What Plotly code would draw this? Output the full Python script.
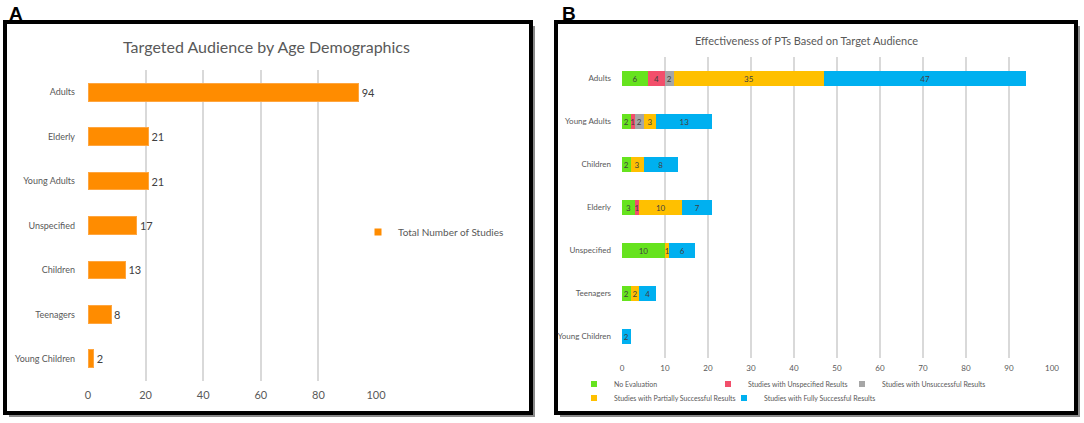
import plotly.graph_objects as go

# Panel A data
ages_a = ["Adults", "Elderly", "Young Adults", "Unspecified", "Children", "Teenagers", "Young Children"]
total_studies = [94, 21, 21, 17, 13, 8, 2]

# Panel B data
ages_b = ["Adults", "Young Adults", "Children", "Elderly", "Unspecified", "Teenagers", "Young Children"]
no_eval = [6, 2, 2, 3, 10, 2, 0]
unspecified_res = [4, 1, 0, 1, 0, 0, 0]
unsuccessful = [2, 2, 0, 0, 0, 0, 0]
partial = [35, 3, 3, 10, 1, 2, 0]
full = [47, 13, 8, 7, 6, 4, 2]

series_b = [
    ("No Evaluation", no_eval, "#66E31E"),
    ("Studies with Unspecified Results", unspecified_res, "#F24F6B"),
    ("Studies with Unsuccessful Results", unsuccessful, "#A6A6A6"),
    ("Studies with Partially Successful Results", partial, "#FFC000"),
    ("Studies with Fully Successful Results", full, "#00B0F0"),
]

W, H = 1084, 423
FONT = "Lato, Open Sans, sans-serif"
GREY = "#595959"


def px(x):
    return x / W


def py(y):
    return 1 - y / H


fig = go.Figure()

# panel A
fig.add_trace(go.Bar(
    x=total_studies, y=ages_a, orientation="h", showlegend=False,
    marker=dict(color="#FF8C00", line=dict(color="#FFA640", width=1)),
    width=0.4, text=total_studies, textposition="outside",
    textfont=dict(size=11, color="#404040", family=FONT), cliponaxis=False,
    xaxis="x", yaxis="y",
))
fig.add_trace(go.Scatter(
    x=[None], y=[None], mode="markers", name="Total Number of Studies",
    marker=dict(symbol="square", size=7, color="#FF8C00"),
    xaxis="x", yaxis="y", legend="legend",
))

# panel B, legend position (text start x, row y) for each series
legend_pos = [(614, 384), (748, 384), (882, 384), (614, 398), (764, 398)]
for i, (name, vals, col) in enumerate(series_b):
    fig.add_trace(go.Bar(
        x=vals, y=ages_b, orientation="h", showlegend=False,
        marker=dict(color=col, line=dict(width=0)), width=0.36,
        text=[str(v) if v else "" for v in vals], textposition="inside",
        insidetextanchor="middle", constraintext="none", textangle=0,
        textfont=dict(size=8, color="#404040", family=FONT),
        xaxis="x2", yaxis="y2",
    ))
    fig.add_trace(go.Scatter(
        x=[None], y=[None], mode="markers", name=name,
        marker=dict(symbol="square", size=6, color=col),
        xaxis="x2", yaxis="y2", legend=f"legend{i + 2}",
    ))

shapes = []
for x0, x1 in [(5, 531), (556, 1076)]:
    shapes.append(dict(type="rect", xref="paper", yref="paper", layer="below",
                       x0=px(x0 + 4), x1=px(x1 + 4), y0=py(413 + 4), y1=py(22 + 4),
                       fillcolor="#8a8a8a", line=dict(width=0)))
    shapes.append(dict(type="rect", xref="paper", yref="paper", layer="below",
                       x0=px(x0), x1=px(x1), y0=py(413), y1=py(22),
                       fillcolor="white", line=dict(color="black", width=4)))

annotations = [
    dict(text="<b>A</b>", x=px(7), y=py(1), xanchor="left", yanchor="top",
         font=dict(size=19, family="Arial", color="black")),
    dict(text="<b>B</b>", x=px(560), y=py(1), xanchor="left", yanchor="top",
         font=dict(size=19, family="Arial", color="black")),
    dict(text="Targeted Audience by Age Demographics", x=px(266), y=py(46),
         xanchor="center", yanchor="middle",
         font=dict(size=16, family=FONT, color=GREY)),
    dict(text="Effectiveness of PTs Based on Target Audience", x=px(806), y=py(40),
         xanchor="center", yanchor="middle",
         font=dict(size=11, family=FONT, color=GREY)),
]
for a in annotations:
    a.update(xref="paper", yref="paper", showarrow=False)

grid = dict(showgrid=True, gridcolor="#D9D9D9", gridwidth=1.5, zeroline=False,
            showline=False, ticks="")


def legend_at(xt, yc, size):
    return dict(x=px(xt - 40), y=py(yc), xanchor="left", yanchor="middle",
                font=dict(size=size, color=GREY, family=FONT),
                bgcolor="rgba(0,0,0,0)", itemwidth=30, borderwidth=0)


layout = dict(
    width=W, height=H, margin=dict(l=0, r=0, t=0, b=0, autoexpand=False),
    paper_bgcolor="white", plot_bgcolor="rgba(0,0,0,0)",
    barmode="stack", showlegend=True,
    font=dict(family=FONT, color=GREY),
    xaxis=dict(domain=[px(88), px(376)], range=[0, 100], dtick=20, anchor="y",
               ticklabelstandoff=6,
               tickfont=dict(size=11, color=GREY, family=FONT), **grid),
    yaxis=dict(domain=[py(381), py(70)], autorange="reversed", anchor="x",
               showgrid=False, zeroline=False, ticks="", ticklabelstandoff=12,
               tickfont=dict(size=9, color=GREY, family=FONT)),
    xaxis2=dict(domain=[px(622), px(1052)], range=[0, 100], dtick=10, anchor="y2",
                ticklabelstandoff=4,
                tickfont=dict(size=8, color=GREY, family=FONT), **grid),
    yaxis2=dict(domain=[py(358), py(57)], autorange="reversed", anchor="x2",
                showgrid=False, zeroline=False, ticks="", ticklabelstandoff=10,
                tickfont=dict(size=8, color=GREY, family=FONT)),
    legend=legend_at(398, 232, 10),
    shapes=shapes, annotations=annotations,
)
for i, (xt, yc) in enumerate(legend_pos):
    layout[f"legend{i + 2}"] = legend_at(xt, yc, 7)

fig.update_layout(**layout)

fig.write_html("out.html", config={"displayModeBar": False},
               post_script="document.body.style.margin = '0px';")
